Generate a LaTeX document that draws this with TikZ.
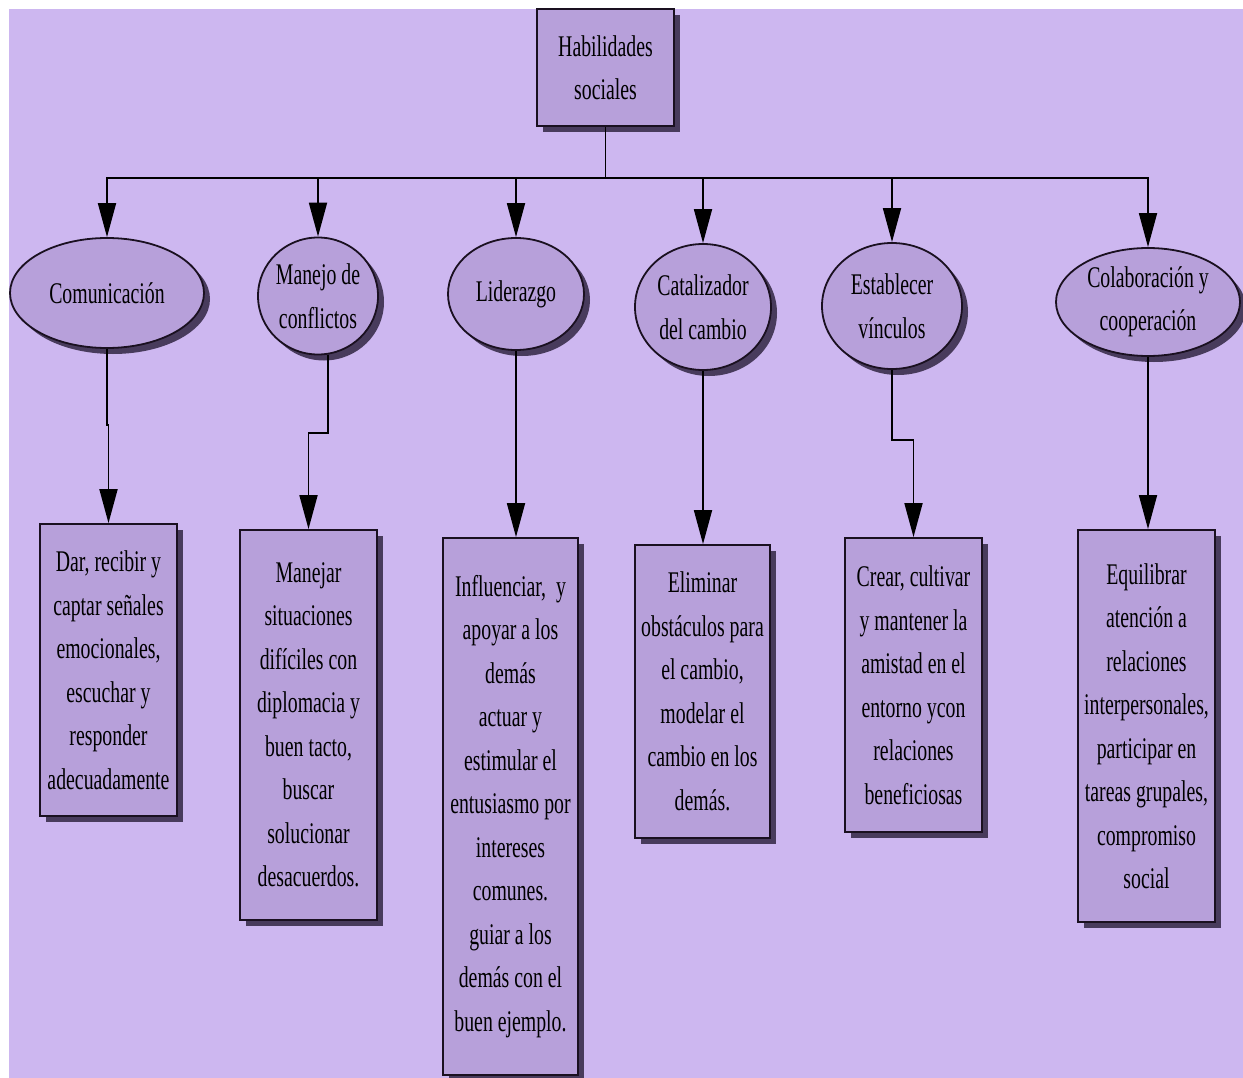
\documentclass[tikz,border=0pt]{standalone}
\usepackage{fontspec}
\setmainfont{Liberation Serif}[FakeStretch=0.66]
\usetikzlibrary{arrows.meta,shapes.geometric,shadows}

\definecolor{bgc}{HTML}{CDB7F0}
\definecolor{fillc}{HTML}{B7A0DA}
\definecolor{shadc}{HTML}{3A2E4C}
\definecolor{linec}{HTML}{1A1020}

\begin{document}
\begin{tikzpicture}[x=1pt,y=-1pt,
  every node/.style={font=\fontsize{30}{43.5}\selectfont, align=center, inner sep=0pt},
  softshadow/.style={drop shadow={shadow xshift=6pt, shadow yshift=-6pt, fill=shadc, opacity=0.9}},
  box/.style={rectangle, draw=linec, line width=1.8pt, fill=fillc, softshadow},
  oval/.style={ellipse, draw=linec, line width=1.8pt, fill=fillc, softshadow},
  link/.style={draw=black, line width=1.8pt},
  arr/.style={link, -{Triangle[length=34pt,width=18pt]}}]

% page and background
\useasboundingbox (0,0) rectangle (1243,1078);
\fill[white] (0,0) rectangle (1243,1078);
\fill[bgc] (9,9) rectangle (1243,1078);

% root
\node[box, minimum width=137pt, minimum height=117pt] (root) at (605.5,67.5) {Habilidades\\sociales};

% second level
\node[oval, minimum width=194pt, minimum height=110pt] (e1) at (107,293) {Comunicación};
\node[oval, minimum width=120pt, minimum height=117pt] (e2) at (318,296) {Manejo de\\conflictos};
\node[oval, minimum width=136pt, minimum height=112pt] (e3) at (516,294) {Liderazgo};
\node[oval, minimum width=136pt, minimum height=126pt] (e4) at (703,307) {Catalizador\\del cambio};
\node[oval, minimum width=140pt, minimum height=126pt] (e5) at (892,306) {Establecer\\vínculos};
\node[oval, minimum width=184pt, minimum height=108pt] (e6) at (1148,302) {Colaboración y\\cooperación};

% descriptions
\node[box, minimum width=137pt, minimum height=292pt] (b1) at (108.5,670)
  {Dar, recibir y\\captar señales\\emocionales,\\escuchar y\\responder\\adecuadamente};
\node[box, minimum width=137pt, minimum height=390pt] (b2) at (308.5,725)
  {Manejar\\situaciones\\difíciles con\\diplomacia y\\buen tacto,\\buscar\\solucionar\\desacuerdos.};
\node[box, minimum width=135pt, minimum height=537pt] (b3) at (510.5,806.5)
  {Influenciar,~ y\\apoyar a los\\demás\\actuar y\\estimular el\\entusiasmo por\\intereses\\comunes.\\guiar a los\\demás con el\\buen ejemplo.};
\node[box, minimum width=135pt, minimum height=293pt] (b4) at (702.5,691.5)
  {Eliminar\\obstáculos para\\el cambio,\\modelar el\\cambio en los\\demás.};
\node[box, minimum width=137pt, minimum height=294pt] (b5) at (913.5,685)
  {Crear, cultivar\\y mantener la\\amistad en el\\entorno ycon\\relaciones\\beneficiosas};
\node[box, minimum width=137pt, minimum height=392pt] (b6) at (1146.5,726)
  {Equilibrar\\atención a\\relaciones\\interpersonales,\\participar en\\tareas grupales,\\compromiso\\social};

% distribution bar
\coordinate (hub) at (605.5,178);
\draw[link] (root.south) -- (hub);
\foreach \e in {e1,e2,e3,e4,e5,e6}
  \draw[arr] (hub) -| (\e.north);

% elbow levels
\coordinate (j1) at (0,425);
\coordinate (j2) at (0,433);
\coordinate (j5) at (0,440);

\draw[arr] (e1.south) -- (e1.south |- j1) -| (b1.north);
\draw[arr] (e2.-80) -- (e2.-80 |- j2) -| (b2.north);
\draw[arr] (e3.south) -- (e3.south |- b3.north);
\draw[arr] (e4.south) -- (e4.south |- b4.north);
\draw[arr] (e5.south) -- (e5.south |- j5) -| (b5.north);
\draw[arr] (e6.south) -- (e6.south |- b6.north);
\end{tikzpicture}
\end{document}
